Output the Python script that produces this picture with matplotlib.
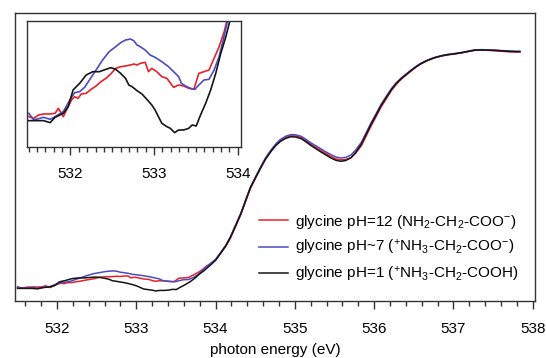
import matplotlib
matplotlib.use("Agg")
import matplotlib.pyplot as plt
from matplotlib.ticker import MultipleLocator

plt.rcParams['font.family'] = ['Liberation Sans', 'DejaVu Sans']
plt.rcParams['mathtext.fontset'] = 'custom'
plt.rcParams['mathtext.rm'] = 'Liberation Sans'
plt.rcParams['mathtext.it'] = 'Liberation Sans'
plt.rcParams['mathtext.default'] = 'regular'

# --- O K-edge spectra of glycine solutions (normalized absorption) ---
# shared energy grid of the main edge (534-538 eV)
energy_edge = [534.00, 534.06, 534.13, 534.19, 534.25, 534.32, 534.38, 534.44, 534.51, 534.57,
               534.63, 534.70, 534.76, 534.82, 534.89, 534.95, 535.01, 535.08, 535.14, 535.20,
               535.27, 535.33, 535.40, 535.46, 535.52, 535.58, 535.64, 535.71, 535.77, 535.84,
               535.90, 535.96, 536.03, 536.09, 536.16, 536.22, 536.28, 536.34, 536.41, 536.47,
               536.53, 536.59, 536.68, 536.76, 536.85, 536.93, 537.02, 537.10, 537.19, 537.27,
               537.36, 537.44, 537.53, 537.61, 537.70, 537.78, 537.84]

# pH = 12
energy_pre_ph12 = [531.502, 531.561, 531.620, 531.678, 531.757, 531.816, 531.855, 531.914, 531.953,
                   532.012, 532.051, 532.090, 532.129, 532.188, 532.247, 532.306, 532.365, 532.424,
                   532.482, 532.541, 532.600, 532.659, 532.718, 532.757, 532.796, 532.835, 532.894,
                   532.933, 532.973, 533.032, 533.093, 533.153, 533.234, 533.294, 533.355, 533.415,
                   533.476, 533.536, 533.597, 533.657, 533.718, 533.778, 533.839, 533.871, 533.940]
absorb_pre_ph12 = [0.0015, 0.0000, 0.0030, 0.0039, 0.0039, 0.0045, 0.0090, 0.0015, 0.0075,
                   0.0165, 0.0195, 0.0180, 0.0219, 0.0225, 0.0261, 0.0291, 0.0330, 0.0360,
                   0.0399, 0.0450, 0.0465, 0.0471, 0.0480, 0.0489, 0.0480, 0.0495, 0.0504,
                   0.0420, 0.0450, 0.0420, 0.0375, 0.0360, 0.0279, 0.0300, 0.0291, 0.0270,
                   0.0261, 0.0405, 0.0420, 0.0435, 0.0540, 0.0645, 0.0780, 0.0879, 0.1020]
absorb_edge_ph12 = [0.117, 0.143, 0.175, 0.211, 0.256, 0.309, 0.364, 0.418, 0.465, 0.504,
                    0.541, 0.575, 0.600, 0.619, 0.633, 0.639, 0.638, 0.632, 0.619, 0.604,
                    0.589, 0.577, 0.563, 0.551, 0.542, 0.538, 0.539, 0.548, 0.567, 0.598,
                    0.638, 0.679, 0.723, 0.761, 0.798, 0.830, 0.855, 0.876, 0.896, 0.912,
                    0.928, 0.941, 0.956, 0.966, 0.974, 0.979, 0.983, 0.987, 0.993, 0.998,
                    0.999, 0.998, 0.996, 0.994, 0.992, 0.991, 0.991]

# pH ~ 7
energy_pre_ph7 = [531.502, 531.561, 531.678, 531.757, 531.816, 531.914, 531.992, 532.051, 532.110,
                  532.169, 532.227, 532.306, 532.384, 532.463, 532.541, 532.600, 532.659, 532.718,
                  532.757, 532.796, 532.835, 532.894, 532.953, 533.012, 533.093, 533.173, 533.234,
                  533.294, 533.327, 533.375, 533.435, 533.488, 533.536, 533.597, 533.657, 533.718,
                  533.778, 533.827, 533.879, 533.940]
absorb_pre_ph7 = [0.0045, -0.0015, 0.0009, -0.0009, 0.0015, 0.0060, 0.0165, 0.0231, 0.0240,
                  0.0279, 0.0345, 0.0435, 0.0525, 0.0600, 0.0645, 0.0681, 0.0705, 0.0714,
                  0.0699, 0.0660, 0.0645, 0.0615, 0.0570, 0.0549, 0.0510, 0.0465, 0.0420,
                  0.0375, 0.0315, 0.0291, 0.0270, 0.0261, 0.0300, 0.0345, 0.0351, 0.0435,
                  0.0555, 0.0705, 0.0879, 0.1040]
absorb_edge_ph7 = [0.120, 0.147, 0.180, 0.217, 0.262, 0.315, 0.370, 0.424, 0.470, 0.509,
                   0.546, 0.580, 0.605, 0.624, 0.638, 0.644, 0.643, 0.637, 0.624, 0.610,
                   0.596, 0.584, 0.570, 0.559, 0.550, 0.546, 0.548, 0.559, 0.580, 0.612,
                   0.652, 0.692, 0.735, 0.772, 0.808, 0.838, 0.862, 0.881, 0.900, 0.916,
                   0.931, 0.944, 0.958, 0.968, 0.976, 0.981, 0.985, 0.989, 0.995, 1.000,
                   1.001, 1.000, 0.999, 0.997, 0.996, 0.994, 0.994]

# pH = 1
energy_pre_ph1 = [531.502, 531.561, 531.678, 531.757, 531.816, 531.914, 531.973, 532.031, 532.110,
                  532.188, 532.267, 532.345, 532.424, 532.482, 532.541, 532.600, 532.659, 532.698,
                  532.737, 532.796, 532.855, 532.914, 532.973, 533.012, 533.052, 533.093, 533.153,
                  533.194, 533.246, 533.294, 533.355, 533.415, 533.456, 533.504, 533.556, 533.617,
                  533.677, 533.738, 533.798, 533.859, 533.899, 533.950]
absorb_pre_ph1 = [-0.0021, -0.0021, -0.0021, -0.0039, 0.0009, 0.0045, 0.0105, 0.0255, 0.0315,
                  0.0390, 0.0420, 0.0420, 0.0441, 0.0456, 0.0441, 0.0405, 0.0360, 0.0300,
                  0.0285, 0.0249, 0.0219, 0.0171, 0.0120, 0.0075, 0.0015, -0.0045, -0.0075,
                  -0.0090, -0.0129, -0.0105, -0.0105, -0.0090, -0.0060, -0.0069, 0.0030, 0.0135,
                  0.0255, 0.0405, 0.0585, 0.0735, 0.0855, 0.1000]
absorb_edge_ph1 = [0.116, 0.144, 0.177, 0.214, 0.259, 0.312, 0.367, 0.421, 0.467, 0.505,
                   0.541, 0.574, 0.598, 0.616, 0.629, 0.635, 0.634, 0.627, 0.614, 0.599,
                   0.584, 0.571, 0.557, 0.545, 0.536, 0.532, 0.535, 0.547, 0.570, 0.604,
                   0.645, 0.686, 0.729, 0.767, 0.803, 0.834, 0.859, 0.879, 0.898, 0.914,
                   0.929, 0.942, 0.957, 0.967, 0.975, 0.980, 0.984, 0.988, 0.994, 0.999,
                   1.000, 0.999, 0.998, 0.996, 0.994, 0.993, 0.993]

labels = ['glycine pH=12 (NH$_2$-CH$_2$-COO$^{-}$)',
          'glycine pH~7 ($^{+}$NH$_3$-CH$_2$-COO$^{-}$)',
          'glycine pH=1 ($^{+}$NH$_3$-CH$_2$-COOH)']
colors = ['#e8202a', '#4a4cc0', '#151515']
series = [(energy_pre_ph12 + energy_edge, absorb_pre_ph12 + absorb_edge_ph12),
          (energy_pre_ph7 + energy_edge, absorb_pre_ph7 + absorb_edge_ph7),
          (energy_pre_ph1 + energy_edge, absorb_pre_ph1 + absorb_edge_ph1)]

fig = plt.figure(figsize=(5.46, 3.58), dpi=100)
ax = fig.add_axes([15 / 546, 1 - 301 / 358, 520 / 546, 288 / 358])
for (e, a), c, lab in zip(series, colors, labels):
    ax.plot(e, a, color=c, lw=1.1, label=lab)

ax.set_xlim(531.47, 538.03)
ax.set_ylim(-0.055, 1.155)
ax.set_yticks([])
ax.xaxis.set_major_locator(MultipleLocator(1))
ax.xaxis.set_minor_locator(MultipleLocator(0.2))
ax.tick_params(axis='x', which='major', direction='out', length=6, width=1.0,
               labelsize=11, pad=9, color='#333333')
ax.tick_params(axis='x', which='minor', direction='out', length=3.5, width=1.0, color='#333333')
for sp in ax.spines.values():
    sp.set_linewidth(1.0)
    sp.set_color('#333333')
ax.set_xlabel('photon energy (eV)', fontsize=11, labelpad=5)

ax.legend(loc='upper left', bbox_to_anchor=(251 / 546, 1 - 205 / 358),
          bbox_transform=fig.transFigure, frameon=False, fontsize=11,
          handlelength=1.95, handletextpad=0.45, labelspacing=0.5, borderpad=0)

# magnified view of the pre-edge region
ins = fig.add_axes([27 / 546, 1 - 147.3 / 358, 214 / 546, 126.6 / 358])
for (e, a), c in zip(series, colors):
    ins.plot(e, a, color=c, lw=1.2)
ins.set_xlim(531.48, 534.04)
ins.set_ylim(-0.0261, 0.0879)
ins.set_yticks([])
ins.xaxis.set_major_locator(MultipleLocator(1))
ins.xaxis.set_minor_locator(MultipleLocator(0.1))
ins.tick_params(axis='x', which='major', direction='out', length=6, width=1.0,
                labelsize=11, pad=8.5, color='#333333')
ins.tick_params(axis='x', which='minor', direction='out', length=3.5, width=1.0, color='#333333')
for sp in ins.spines.values():
    sp.set_linewidth(1.0)
    sp.set_color('#333333')

fig.savefig('out.png', dpi=100)
